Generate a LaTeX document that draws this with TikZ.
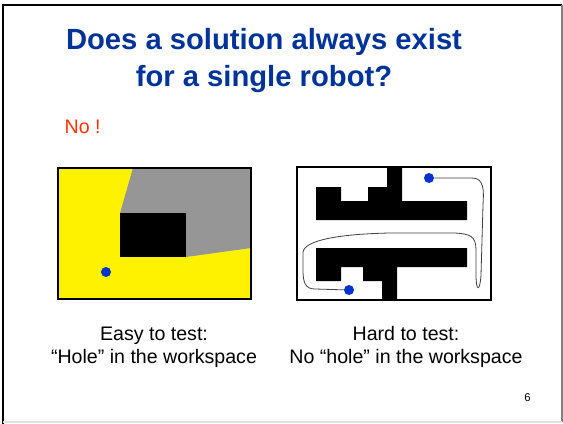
\documentclass[tikz,border=0pt]{standalone}
\usepackage{fontspec}
\setmainfont{Liberation Sans}
\usetikzlibrary{positioning}
\definecolor{titleblue}{RGB}{0,51,153}
\definecolor{noorange}{RGB}{255,51,0}
\definecolor{shadowgray}{RGB}{150,150,150}
\definecolor{robotblue}{RGB}{0,51,204}

\begin{document}
\begin{tikzpicture}[x=0.75pt, y=-0.75pt,
    titletext/.style={anchor=base, text=titleblue, font=\fontsize{21.9}{26}\selectfont\bfseries},
    captext/.style={anchor=base, font=\fontsize{14.7}{18}\selectfont},
    robot/.style={circle, fill=robotblue, inner sep=0pt, minimum size=7.5pt},
    panel/.style={line width=1.5pt}
]
    \useasboundingbox (0,0) rectangle (563,424);

    % slide frame
    \draw[line width=1.5pt] (3,424) -- (3,5) -- (562,5);
    \draw[gray, line width=0.8pt] (562,5) -- (562,422);
    \draw[black!12, line width=0.8pt] (3,422) -- (562,422);

    % title
    \node[titletext] (title1) at (264,50) {Does a solution always exist};
    \node[titletext] (title2) at (264,87) {for a single robot?};
    \node[anchor=base west, text=noorange, font=\fontsize{14.7}{18}\selectfont] (answer) at (60,133) {No !};

    % left panel: hole in the workspace
    \fill[yellow] (58,168) rectangle (251,299);
    \fill[shadowgray] (133,168) -- (120,213) -- (186,257) -- (251,248) -- (251,168) -- cycle;
    \fill (120,213) rectangle (186,257);
    \draw[panel] (58,168) rectangle (251,299);
    \node[robot] (robotA) at (106,272) {};

    % right panel: maze, no hole
    \draw[panel, fill=white] (297,167) rectangle (491,300);
    \fill (316,187) -- (341,187) -- (341,201) -- (368,201) -- (368,187) -- (387,187)
        -- (387,167) -- (402,167) -- (402,201) -- (467,201) -- (467,220) -- (316,220) -- cycle;
    \fill (316,248) -- (467,248) -- (467,267) -- (397,267) -- (397,300) -- (382,300)
        -- (382,281) -- (363,281) -- (363,267) -- (341,267) -- (341,281) -- (316,281) -- cycle;
    \node[robot] (robotS) at (429,178) {};
    \node[robot] (robotG) at (349,290) {};
    \draw[black!75, line width=0.6pt] (robotS) -- (472,178)
        .. controls (484,178) and (484,190) .. (483,205) -- (481,275)
        .. controls (480,292) and (476,292) .. (476,275) -- (476,250)
        .. controls (476,236) and (470,234) .. (455,233) -- (390,233)
        .. controls (340,234) and (305,240) .. (303,252) -- (303,270)
        .. controls (303,282) and (305,289) .. (315,289) -- (robotG);

    % captions
    \node[captext] (easy1) at (154,340) {Easy to test:};
    \node[captext] (easy2) at (154,363) {``Hole'' in the workspace};
    \node[captext] (hard1) at (406,340) {Hard to test:};
    \node[captext] (hard2) at (406,363) {No ``hole'' in the workspace};

    \node[font=\fontsize{8.5}{10}\selectfont] (pagenum) at (527.5,398) {6};
\end{tikzpicture}
\end{document}
